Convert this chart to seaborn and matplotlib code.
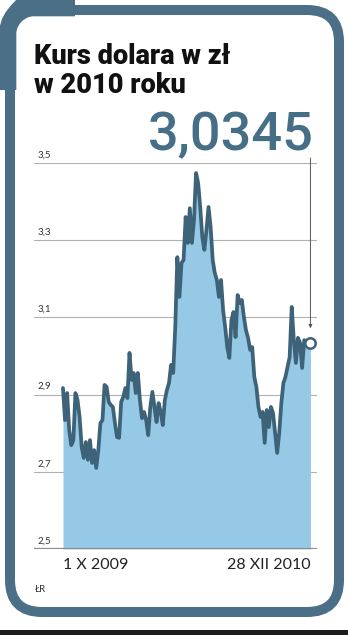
import numpy as np
import pandas as pd
import seaborn as sns
import matplotlib.pyplot as plt
from matplotlib.patches import FancyBboxPatch, Rectangle
from matplotlib.path import Path
from matplotlib.patches import PathPatch
import matplotlib.transforms as mtransforms

# USD/PLN rate, 1 X 2009 .. 28 XII 2010
rate = [
    2.917, 2.834, 2.904, 2.808, 2.769, 2.782, 2.904, 2.886, 2.842, 2.764,
    2.736, 2.777, 2.731, 2.782, 2.723, 2.756, 2.710, 2.756, 2.826, 2.834,
    2.925, 2.920, 2.881, 2.873, 2.868, 2.826, 2.790, 2.788, 2.881, 2.894,
    2.917, 2.891, 3.008, 2.938, 2.956, 2.904, 2.956, 2.886, 2.839, 2.855,
    2.834, 2.795, 2.868, 2.907, 2.868, 2.829, 2.878, 2.855, 2.821, 2.886,
    2.912, 2.930, 2.977, 2.956, 3.075, 3.256, 3.153, 3.241, 3.249, 3.360,
    3.293, 3.383, 3.293, 3.352, 3.474, 3.448, 3.386, 3.308, 3.275, 3.326,
    3.386, 3.334, 3.249, 3.215, 3.197, 3.153, 3.197, 3.119, 3.075, 3.023,
    2.995, 3.093, 3.114, 3.049, 3.158, 3.137, 3.145, 3.101, 3.067, 3.047,
    3.016, 3.023, 2.946, 2.920, 2.868, 2.842, 2.855, 2.775, 2.860, 2.816,
    2.868, 2.852, 2.801, 2.749, 2.801, 2.878, 2.930, 2.946, 2.972, 2.997,
    3.127, 3.041, 2.982, 3.047, 3.034, 2.969, 3.041, 3.036, 3.028, 3.0345,
]
start_date = "2009-10-01"
end_date = "2010-12-28"
y_ticks = [2.5, 2.7, 2.9, 3.1, 3.3, 3.5]
y_tick_labels = ["2,5", "2,7", "2,9", "3,1", "3,3", "3,5"]
x_labels = ["1 X 2009", "28 XII 2010"]
title_lines = ["Kurs dolara w zł", "w 2010 roku"]
last_value = "3,0345"
source = "ŁR"

frame_col = "#4a6f87"
line_col = "#3e6379"
fill_col = "#95c9e5"

df = pd.DataFrame({
    "date": pd.date_range(start_date, end_date, periods=len(rate)),
    "rate": rate,
})

sns.set_style("white")
plt.rcParams["font.family"] = ["Lato", "DejaVu Sans"]

W, H = 348, 635
fig = plt.figure(figsize=(W / 100, H / 100), dpi=100)

# background layer in pixel coordinates
bg = fig.add_axes([0, 0, 1, 1], zorder=0)
bg.set_xlim(0, W)
bg.set_ylim(H, 0)
bg.axis("off")

frame = FancyBboxPatch((10, 10), 329, 602, boxstyle="round,pad=0,rounding_size=32",
                       fc="white", ec=frame_col, lw=7.2)
bg.add_patch(frame)
tab = Path([(75, 8), (20, 8), (8, 20), (8, 30), (8, 90)],
           [Path.MOVETO, Path.LINETO, Path.CURVE3, Path.CURVE3, Path.LINETO])
bg.add_patch(PathPatch(tab, fc="none", ec=frame_col, lw=12, capstyle="butt"))
bg.add_patch(Rectangle((0, 630), W, 5, fc="#1c1c1c", ec="none"))

for yb, line in zip([64, 93], title_lines):
    bg.text(34, yb, line, fontsize=19.5, fontweight=900, family=["Roboto", "DejaVu Sans"],
            color="#111111", va="baseline", ha="left")
bg.text(314, 150, last_value, fontsize=39, fontweight="medium", family=["Roboto", "DejaVu Sans"],
        color="#466e86", va="baseline", ha="right")
bg.text(35, 590, source, fontsize=7, color="#333333", va="center", ha="left")

# chart
ax = fig.add_axes([34 / W, (H - 549) / H, 283 / W, 386 / H], zorder=1)
ax.patch.set_alpha(0)

sns.lineplot(data=df, x="date", y="rate", ax=ax, color=line_col, lw=2.7, zorder=3)
ax.fill_between(df["date"], df["rate"], 2.5, color=fill_col, lw=0, zorder=2)

d0, d1 = df["date"].iloc[0], df["date"].iloc[-1]
ax.set_xlim(d0 - pd.Timedelta(days=53), d1 + pd.Timedelta(days=12))
ax.set_ylim(2.5, 3.5)
for s in ax.spines.values():
    s.set_visible(False)
ax.set_xticks([])
ax.set_yticks([])
ax.set_xlabel("")
ax.set_ylabel("")

for v, lab in zip(y_ticks, y_tick_labels):
    if v == 2.5:
        ax.axhline(v, color="#8c8c8c", lw=1.6, zorder=4)
    else:
        ax.axhline(v, color="#b0b0b0", lw=0.8, zorder=1)
    ax.text(0.014, v + 0.009, lab, transform=ax.get_yaxis_transform(),
            fontsize=7, color="#333333", ha="left", va="bottom")

xt = mtransforms.blended_transform_factory(ax.transData, ax.transAxes)
ax.text(d0, -0.042, x_labels[0], transform=xt, fontsize=11.5, color="#222222",
        ha="left", va="center")
ax.text(d1, -0.042, x_labels[1], transform=xt, fontsize=11.5, color="#222222",
        ha="right", va="center")

ax.annotate("", xy=(d1, df["rate"].iloc[-1] + 0.03), xytext=(d1, 3.52),
            arrowprops=dict(arrowstyle="-|>", lw=0.7, color="#555555", mutation_scale=5),
            annotation_clip=False)
ax.plot([d1], [df["rate"].iloc[-1]], marker="o", ms=7.5, mfc="white", mec=line_col,
        mew=1.8, zorder=5, clip_on=False)

fig.savefig("out.png", dpi=100)
